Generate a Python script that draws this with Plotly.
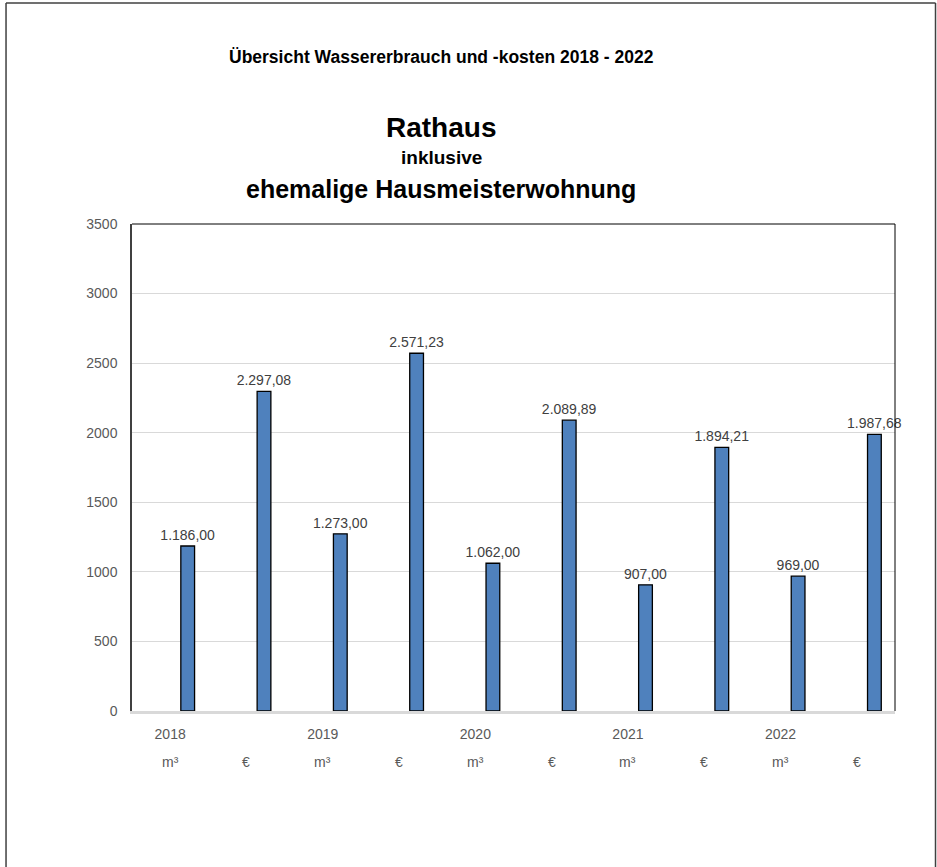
import plotly.graph_objects as go

# Water consumption (m³) and cost (€) per year, alternating
years = ["2018", "2019", "2020", "2021", "2022"]
units = ["m³", "€", "m³", "€", "m³", "€", "m³", "€", "m³", "€"]
values = [1186.00, 2297.08, 1273.00, 2571.23, 1062.00,
          2089.89, 907.00, 1894.21, 969.00, 1987.68]
y_ticks = [0, 500, 1000, 1500, 2000, 2500, 3000, 3500]

FONT = "Liberation Sans, Arial, sans-serif"
positions = list(range(len(values)))

fig = go.Figure()
fig.add_trace(go.Bar(
    x=positions,
    y=values,
    width=0.18,
    offset=0.14,
    marker=dict(color="#4F81BD", line=dict(color="#000000", width=1.3)),
    texttemplate="%{y:,.2f}",
    textposition="outside",
    constraintext="none",
    textfont=dict(family=FONT, size=14, color="#404040"),
    cliponaxis=False,
    hoverinfo="skip",
))

# unit row beneath the year labels
for pos, unit in zip(positions, units):
    fig.add_annotation(
        x=pos, xref="x", y=-0.105, yref="paper",
        text=unit, showarrow=False, yanchor="middle",
        font=dict(family=FONT, size=14, color="#595959"),
    )

# headings
headings = [
    ("<b>Übersicht Wassererbrauch und -kosten 2018 - 2022</b>", 17.5, 1.343),
    ("<b>Rathaus</b>", 28, 1.199),
    ("<b>inklusive</b>", 19, 1.137),
    ("<b>ehemalige Hausmeisterwohnung</b>", 25, 1.071),
]
for text, size, ypos in headings:
    fig.add_annotation(
        x=0.405, xref="paper", y=ypos, yref="paper",
        text=text, showarrow=False, xanchor="center", yanchor="middle",
        font=dict(family=FONT, size=size, color="#000000"),
    )

shapes = [
    # plot area frame (top and right)
    dict(type="line", xref="paper", yref="paper", x0=0, x1=1, y0=1, y1=1,
         line=dict(color="#000000", width=1)),
    dict(type="line", xref="paper", yref="paper", x0=1, x1=1, y0=0, y1=1,
         line=dict(color="#000000", width=1)),
    # outer chart frame
    dict(type="line", xref="paper", yref="paper", x0=-0.1651, x1=-0.1651,
         y0=1.4538, y1=-0.35, line=dict(color="#404040", width=1.5)),
    dict(type="line", xref="paper", yref="paper", x0=1.0531, x1=1.0531,
         y0=1.4538, y1=-0.35, line=dict(color="#404040", width=1.5)),
    dict(type="line", xref="paper", yref="paper", x0=-0.1651, x1=1.0531,
         y0=1.4538, y1=1.4538, line=dict(color="#404040", width=1.5)),
]

fig.update_layout(
    width=937, height=867,
    margin=dict(l=132, r=42, t=224, b=156),
    paper_bgcolor="white", plot_bgcolor="white",
    separators=",.",
    showlegend=False,
    shapes=shapes,
    font=dict(family=FONT, size=14, color="#595959"),
    xaxis=dict(
        range=[-0.5, len(values) - 0.5],
        tickmode="array",
        tickvals=positions[::2],
        ticktext=years,
        showgrid=False, zeroline=False,
        showline=True, linecolor="#d9d9d9", linewidth=2.5,
        ticks="", ticklabelstandoff=8,
        tickfont=dict(family=FONT, size=14, color="#595959"),
        fixedrange=True,
    ),
    yaxis=dict(
        range=[0, 3500],
        tickmode="array",
        tickvals=y_ticks,
        tickformat="d",
        showgrid=True, gridcolor="#d9d9d9", gridwidth=1,
        zeroline=False,
        showline=True, linecolor="#404040", linewidth=1.5,
        ticks="", ticklabelstandoff=10,
        tickfont=dict(family=FONT, size=14, color="#595959"),
        fixedrange=True,
    ),
)

fig.write_html("out.html")
